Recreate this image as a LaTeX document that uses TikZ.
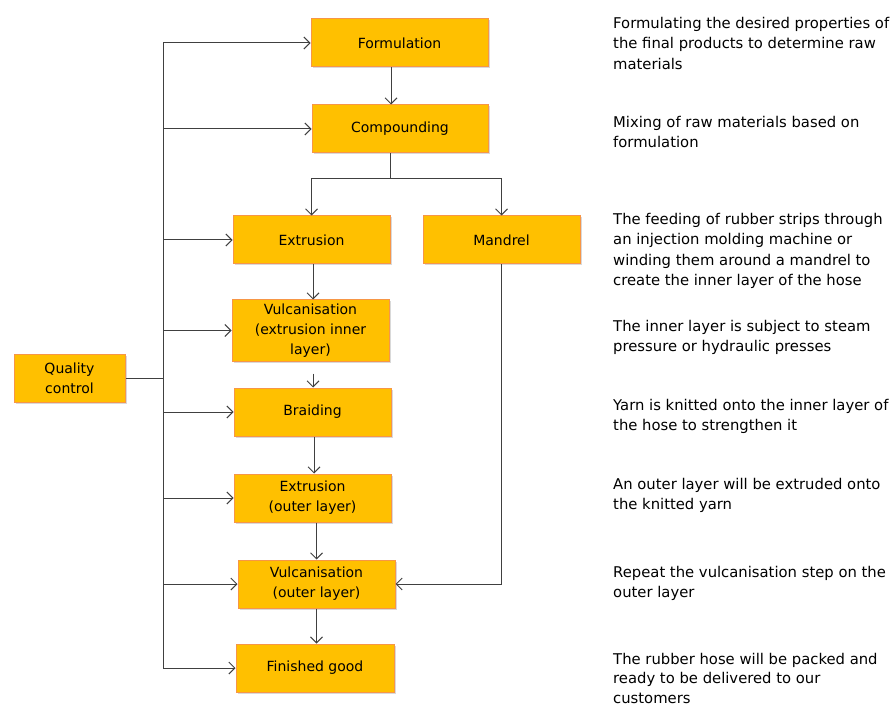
\documentclass[tikz,border=0pt]{standalone}
\usepackage{fontspec}
\setmainfont{DejaVu Sans}
\usetikzlibrary{arrows.meta}
\usetikzlibrary{shadows}

\definecolor{boxfill}{HTML}{FFC000}
\definecolor{boxline}{HTML}{F79646}
\definecolor{linegray}{HTML}{404040}

\tikzset{
  stepbox/.style={draw=boxline, fill=boxfill, line width=1pt, align=center,
    inner sep=0pt, minimum width=157pt, minimum height=48pt,
    font=\fontsize{14}{20}\selectfont,
    drop shadow={shadow xshift=1.5pt, shadow yshift=-1.5pt, opacity=0.3, fill=gray}},
  note/.style={anchor=north west, align=left, inner sep=0pt,
    font=\fontsize{14.8}{20.3}\selectfont},
  flow/.style={draw=linegray, line width=1pt, -{Straight Barb[length=6pt,width=12pt]}}
}

\begin{document}
\begin{tikzpicture}[x=1pt,y=-1pt]
\useasboundingbox (0,0) rectangle (896,708);
\def\spineX{163}
% process boxes
\node[stepbox, minimum width=177pt] (formulation) at (399.5,43) {Formulation};
\node[stepbox, minimum width=176pt] (compounding) at (400,129) {Compounding};
\node[stepbox] (extrusion) at (311.5,240) {Extrusion};
\node[stepbox] (mandrel) at (501.5,240) {Mandrel};
\node[stepbox, minimum height=61pt] (vulcinner) at (310.5,330.5) {Vulcanisation\\(extrusion inner\\layer)};
\node[stepbox] (braiding) at (312.5,412) {Braiding};
\node[stepbox] (extouter) at (312.5,498) {Extrusion\\(outer layer)};
\node[stepbox] (vulcouter) at (316.5,584) {Vulcanisation\\(outer layer)};
\node[stepbox, minimum width=158pt] (finished) at (315,668) {Finished good};
\node[stepbox, minimum width=111pt] (quality) at (69.5,378) {Quality\\control};

% quality control spine
\coordinate (spinetop) at (\spineX,43);
\coordinate (spinebot) at (\spineX,668);
\draw[draw=linegray, line width=1pt] (spinetop) -- (spinebot);
\draw[draw=linegray, line width=1pt] (quality.east) -- (quality.east -| spinetop);
\foreach \n in {formulation,compounding,extrusion,vulcinner,braiding,extouter,vulcouter,finished}
  \draw[flow] (\n.west -| spinetop) -- (\n.west);

% main flow
\draw[flow] ([xshift=-8.5pt]formulation.south) -- ([xshift=-9pt]compounding.north);
\draw[draw=linegray, line width=1pt] ([xshift=-10pt]compounding.south) -- ++(0,25) coordinate (split);
\draw[flow] (split) -| (extrusion.north);
\draw[flow] (split) -| (mandrel.north);
\draw[flow] ([xshift=1.5pt]extrusion.south) -- ([xshift=1.5pt]extrusion.south |- vulcinner.north);
\draw[flow] ([xshift=2.5pt,yshift=-12pt]vulcinner.south) -- ([xshift=2.5pt]vulcinner.south |- braiding.north);
\draw[flow] ([xshift=1.5pt]braiding.south) -- ([xshift=1.5pt]braiding.south |- extouter.north);
\draw[flow] (vulcouter.north |- extouter.south) -- (vulcouter.north);
\draw[flow] (vulcouter.south) -- (vulcouter.south |- finished.north);
\draw[flow] (mandrel.south) |- (vulcouter.east);

% descriptions
\node[note] (n1) at (613,17) {Formulating the desired properties of\\the final products to determine raw\\materials};
\node[note] (n2) at (613,116) {Mixing of raw materials based on\\formulation};
\node[note] (n3) at (613,213) {The feeding of rubber strips through\\an injection molding machine or\\winding them around a mandrel to\\create the inner layer of the hose};
\node[note] (n4) at (613,320) {The inner layer is subject to steam\\pressure or hydraulic presses};
\node[note] (n5) at (613,399) {Yarn is knitted onto the inner layer of\\the hose to strengthen it};
\node[note] (n6) at (613,478) {An outer layer will be extruded onto\\the knitted yarn};
\node[note] (n7) at (613,566) {Repeat the vulcanisation step on the\\outer layer};
\node[note, font=\fontsize{14.8}{19.5}\selectfont] (n8) at (613,653) {The rubber hose will be packed and\\ready to be delivered to our\\customers};
\end{tikzpicture}
\end{document}
